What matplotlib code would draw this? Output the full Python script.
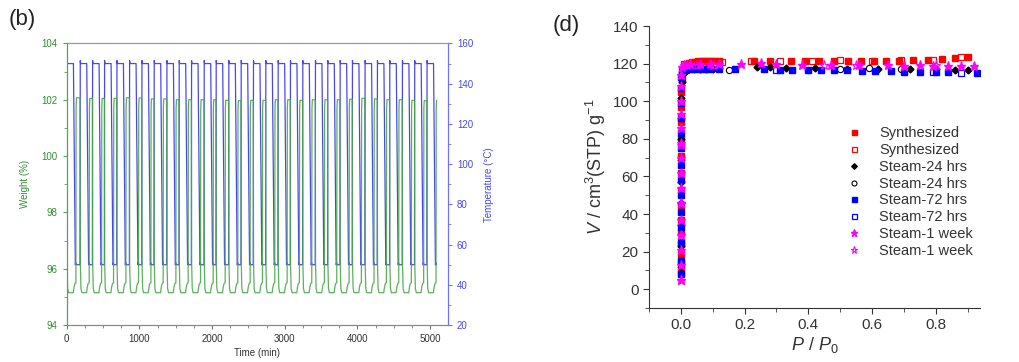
import numpy as np
import matplotlib
matplotlib.use("Agg")
import matplotlib.pyplot as plt
from matplotlib.ticker import MultipleLocator

plt.rcParams['font.family'] = ['Liberation Sans', 'DejaVu Sans']
plt.rcParams['mathtext.fontset'] = 'custom'
plt.rcParams['mathtext.rm'] = 'Liberation Sans'
plt.rcParams['mathtext.it'] = 'Liberation Sans:italic'

# ---------------- panel (b): cycling TGA ----------------
# start time (min) of each heating step
cycle_starts = [0, 183, 353, 518, 688, 862, 1032, 1201, 1376, 1545,
                1715, 1889, 2054, 2228, 2398, 2567, 2737, 2907, 3076, 3246,
                3420, 3590, 3760, 3929, 4103, 4273, 4443, 4617, 4786, 4956]
# weight maximum reached at the end of each cycle (%)
peak_weight = [102.07, 102.05, 102.05, 102.05, 102.07, 102.06, 102.03, 102.03, 102.0, 102.0,
               102.0, 102.0, 101.98, 101.97, 101.98, 101.98, 102.0, 102.0, 101.98, 102.0,
               102.0, 102.0, 102.02, 102.05, 102.03, 102.0, 102.0, 101.98, 101.97, 101.98]
# one cycle of the profiles (offset from start of heating, value)
temp_offsets = [0, 3, 8, 92, 118, 124, 130]
temp_values = [50, 151.5, 150, 150, 50, 51, 50]
weight_offsets = [4, 12, 25, 90, 100, 112, 126, 129, 134]
weight_values = [96.2, 95.3, 95.15, 95.15, 95.35, 95.48, 95.5, 101.7, None]  # None -> cycle peak
temp_low = 50
temp_first = 75
weight_first = 95.6
end_offset = 135

time_t, temp = [], []
time_w, weight = [], []
for i, t0 in enumerate(cycle_starts):
    # temperature
    time_t.append(t0)
    temp.append(temp_first if i == 0 else temp_low)
    for off, val in zip(temp_offsets[1:], temp_values[1:]):
        if off <= end_offset or i < len(cycle_starts) - 1:
            time_t.append(t0 + off)
            temp.append(val)
    # weight
    time_w.append(t0)
    weight.append(weight_first if i == 0 else peak_weight[i - 1] - 0.05)
    for off, val in zip(weight_offsets, weight_values):
        time_w.append(t0 + off)
        weight.append(peak_weight[i] if val is None else val)
    if i < len(cycle_starts) - 1:
        time_w.append(cycle_starts[i + 1] - 2)
        weight.append(peak_weight[i])

fig = plt.figure(figsize=(10.19, 3.62), dpi=100)

green = '#4aa84a'
green_txt = '#2f8f2f'
blue = '#4848f0'

ax1 = fig.add_axes([0.0655, 0.102, 0.374, 0.778])
ax2 = ax1.twinx()
ax1.plot(time_w, weight, color=green, lw=0.9, alpha=0.9)
ax2.plot(time_t, temp, color=blue, lw=0.9)
ax1.set_zorder(2)
ax1.patch.set_visible(False)

ax1.set_xlim(0, 5245)
ax1.set_ylim(94, 104)
ax2.set_ylim(20, 160)
ax1.xaxis.set_major_locator(MultipleLocator(1000))
ax1.xaxis.set_minor_locator(MultipleLocator(250))
ax1.yaxis.set_major_locator(MultipleLocator(2))
ax1.yaxis.set_minor_locator(MultipleLocator(1))
ax2.yaxis.set_major_locator(MultipleLocator(20))
ax2.yaxis.set_minor_locator(MultipleLocator(10))

for a in (ax1, ax2):
    a.spines['top'].set_color('#999999')
    a.spines['bottom'].set_color('#888888')
    a.spines['left'].set_color(green)
    a.spines['right'].set_color('#7070ff')
ax1.tick_params(axis='x', which='both', direction='out', colors='#777777', labelcolor='#333333', labelsize=7, length=3)
ax1.tick_params(axis='x', which='minor', length=2)
ax1.tick_params(axis='y', which='both', direction='out', colors=green, labelcolor=green_txt, labelsize=7, length=3)
ax1.tick_params(axis='y', which='minor', length=2)
ax2.tick_params(axis='y', which='both', direction='out', colors='#7070ff', labelcolor=blue, labelsize=7, length=3)
ax2.tick_params(axis='y', which='minor', length=2)

ax1.set_ylabel('Weight (%)', color=green_txt, fontsize=7, labelpad=8)
ax2.set_ylabel('Temperature (°C)', color=blue, fontsize=7, labelpad=8)
ax1.set_xlabel('Time (min)', color='#333333', fontsize=7, labelpad=3)

fig.text(0.008, 0.945, '(b)', fontsize=16, va='center', ha='left', color='#222222')

# ---------------- panel (d): N2 isotherms ----------------
syn_ads_p = [0.0, 0.0, 0.0, 0.0, 0.0, 0.0, 0.0, 0.0, 0.0, 0.0, 0.0, 0.0, 0.0, 0.001, 0.003,
             0.008, 0.015, 0.025, 0.035, 0.045, 0.055, 0.065, 0.075, 0.085, 0.095, 0.105, 0.12,
             0.23, 0.28, 0.345, 0.39, 0.435, 0.48, 0.525, 0.565, 0.605, 0.645, 0.685, 0.73,
             0.775, 0.82, 0.86, 0.9]
syn_ads_v = [9, 14, 19, 24, 30, 37, 45, 53, 62, 71, 80, 89, 97, 105, 112,
             117, 119.5, 120.5, 121, 121, 121.2, 121.2, 121.2, 121.3, 121.3, 121.3, 121.3,
             121.2, 121.2, 121.2, 121.2, 121.2, 121.2, 121.2, 121.3, 121.3, 121.4, 121.5, 121.7,
             122, 122.4, 122.9, 123.6]
syn_des_p = [0.88, 0.79, 0.69, 0.6, 0.5, 0.41, 0.31, 0.22, 0.13, 0.09, 0.06, 0.04, 0.02, 0.01]
syn_des_v = [123.5, 122, 121.9, 121.6, 121.8, 121.3, 121.3, 121.3, 121, 120.8, 120.6, 120.3, 120, 119.6]

s24_ads_p = [0.0, 0.0, 0.0, 0.0, 0.0, 0.0, 0.0, 0.0, 0.001, 0.004, 0.01, 0.02, 0.04, 0.06,
             0.08, 0.1, 0.12, 0.24, 0.28, 0.33, 0.42, 0.52, 0.62, 0.72, 0.8, 0.86, 0.9]
s24_ads_v = [12, 23, 34, 46, 57, 69, 80, 91, 102, 110, 115, 116.5, 117, 117.2,
             117.3, 117.4, 117.5, 118, 118, 117.8, 117.5, 117.3, 117.2, 117, 116.9, 116.8, 116.8]
s24_des_p = [0.69, 0.59, 0.5, 0.4, 0.15, 0.06, 0.02, 0.003]
s24_des_v = [117.3, 117.5, 117.3, 116.8, 116.8, 117, 116.8, 115.8]

s72_ads_p = [0.0, 0.0, 0.0, 0.0, 0.0, 0.0, 0.0, 0.0, 0.0, 0.0, 0.0, 0.0, 0.0, 0.001, 0.004,
             0.01, 0.03, 0.05, 0.07, 0.09, 0.12, 0.17, 0.26, 0.31, 0.35, 0.40, 0.44, 0.48,
             0.52, 0.57, 0.61, 0.66, 0.70, 0.75, 0.80, 0.84, 0.93]
s72_ads_v = [8, 15, 25, 33, 41, 50, 58, 66, 75, 83, 91, 99, 107, 113, 116,
             117, 117, 117, 117, 117, 117, 117.2, 117.2, 116.8, 116.8, 116.8, 116.5, 116.5,
             116.5, 116.3, 116.1, 115.9, 115.7, 115.4, 115.4, 115.4, 115]
s72_des_p = [0.88, 0.79, 0.3, 0.08, 0.03]
s72_des_v = [115, 115.5, 116.8, 117, 117]

s1w_ads_p = [0.0, 0.0, 0.0, 0.0, 0.0, 0.0, 0.0, 0.0, 0.0, 0.0, 0.0, 0.0, 0.0, 0.0, 0.001,
             0.003, 0.01, 0.03, 0.06, 0.09, 0.12, 0.19, 0.25, 0.3, 0.38, 0.47, 0.56, 0.65,
             0.7, 0.75, 0.79, 0.84, 0.88, 0.92]
s1w_ads_v = [5, 13, 21, 29, 37, 46, 54, 62, 70, 78, 86, 93, 100, 108, 114,
             118, 119.5, 120, 120, 120, 120, 120, 120.6, 120, 119.5, 119.5, 119.4, 119.1,
             119, 119.1, 119, 118.6, 118.6, 118.5]
s1w_des_p = [0.8, 0.7, 0.55, 0.45, 0.1, 0.05, 0.02, 0.0, 0.0, 0.0]
s1w_des_v = [119.5, 119, 119.5, 119.3, 119.5, 119.5, 119.3, 77, 46, 5]

labels = ['Synthesized', 'Synthesized', 'Steam-24 hrs', 'Steam-24 hrs',
          'Steam-72 hrs', 'Steam-72 hrs', 'Steam-1 week', 'Steam-1 week']

ax3 = fig.add_axes([0.637, 0.149, 0.325, 0.779])
ax3.plot(syn_ads_p, syn_ads_v, 's', color='#ff0000', ms=4.5, label=labels[0])
ax3.plot(syn_des_p, syn_des_v, 's', color='#ff0000', mfc='none', ms=4.5, mew=0.9, label=labels[1])
ax3.plot(s24_ads_p, s24_ads_v, 'D', color='black', ms=3.5, label=labels[2])
ax3.plot(s24_des_p, s24_des_v, 'o', color='black', mfc='none', ms=4.5, mew=0.8, label=labels[3])
ax3.plot(s72_ads_p, s72_ads_v, 's', color='#0000ff', ms=4.5, label=labels[4])
ax3.plot(s72_des_p, s72_des_v, 's', color='#0000ff', mfc='none', ms=4.5, mew=0.9, label=labels[5])
ax3.plot(s1w_ads_p, s1w_ads_v, '*', color='#ff00ff', ms=6.5, label=labels[6])
ax3.plot(s1w_des_p, s1w_des_v, '*', color='#ff00ff', mfc='none', ms=6.5, mew=0.8, label=labels[7])

ax3.set_xlim(-0.1, 0.94)
ax3.set_ylim(-10, 140)
ax3.spines['top'].set_visible(False)
ax3.spines['right'].set_visible(False)
for s in ('left', 'bottom'):
    ax3.spines[s].set_color('#333333')
ax3.xaxis.set_major_locator(MultipleLocator(0.2))
ax3.xaxis.set_minor_locator(MultipleLocator(0.1))
ax3.yaxis.set_major_locator(MultipleLocator(20))
ax3.yaxis.set_minor_locator(MultipleLocator(10))
ax3.tick_params(which='both', direction='out', colors='#333333', labelsize=11)
ax3.tick_params(which='major', length=4)
ax3.tick_params(which='minor', length=3)
ax3.set_xticks([0.0, 0.2, 0.4, 0.6, 0.8])
ax3.set_xticklabels(['0.0', '0.2', '0.4', '0.6', '0.8'])
ax3.set_xlabel(r'$\it{P}$ / $\it{P}_0$', fontsize=13, color='#333333', labelpad=2)
ax3.set_ylabel(r'$\it{V}$ / cm$^3$(STP) g$^{-1}$', fontsize=13, color='#333333', labelpad=4)

ax3.legend(loc='upper left', bbox_to_anchor=(0.58, 0.665), frameon=False, fontsize=10.5,
           handlelength=1.0, handletextpad=1.2, labelspacing=0.19, markerscale=0.8,
           labelcolor='#333333', borderaxespad=0)

fig.text(0.542, 0.93, '(d)', fontsize=16, va='center', ha='left', color='#222222')

fig.savefig('out.png', dpi=100)
